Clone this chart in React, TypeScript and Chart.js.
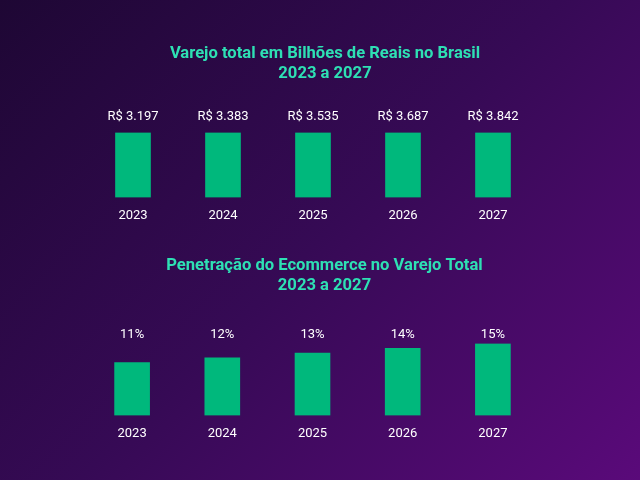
import React, { useEffect, useRef } from "react";
import { Chart, registerables } from "chart.js";

Chart.register(...registerables);

const years = ["2023", "2024", "2025", "2026", "2027"];
const retailValues = [3197, 3383, 3535, 3687, 3842];
// In the picture the retail bars are all drawn at the same height
const retailBarHeights = [1, 1, 1, 1, 1];
const ecommerceShare = [11, 12, 13, 14, 15];

const retailTitle = ["Varejo total em Bilhões de Reais no Brasil", "2023 a 2027"];
const ecommerceTitle = ["Penetração do Ecommerce no Varejo Total", "2023 a 2027"];

const FONT = "Roboto, 'Noto Sans', sans-serif";
const TITLE_COLOR = "#2ee0b4";
const BAR_COLOR = "#00b87c";
const TEXT_COLOR = "#ffffff";

const fmtBRL = (v: number) => "R$ " + v.toLocaleString("pt-BR");
const fmtPct = (v: number) => v + "%";

const valueLabels = {
  id: "valueLabels",
  afterDatasetsDraw(chart: any, _args: any, opts: any) {
    const { ctx, chartArea } = chart;
    const meta = chart.getDatasetMeta(0);
    const labels: string[] = opts.labels || [];
    ctx.save();
    ctx.font = `13px ${FONT}`;
    ctx.fillStyle = TEXT_COLOR;
    ctx.textAlign = "center";
    ctx.textBaseline = "middle";
    meta.data.forEach((bar: any, i: number) => {
      ctx.fillText(labels[i], bar.x, chartArea.top - (opts.offset || 12));
    });
    ctx.restore();
  },
};

function BarChart(props: {
  title: string[];
  data: number[];
  labels: string[];
  max: number;
  titlePadTop: number;
  titlePadBottom: number;
  padLeft: number;
  padBottom: number;
  labelOffset: number;
  top: number;
}) {
  const ref = useRef<HTMLCanvasElement | null>(null);
  useEffect(() => {
    if (!ref.current) return;
    const chart = new Chart(ref.current, {
      type: "bar",
      data: {
        labels: years,
        datasets: [
          {
            data: props.data,
            backgroundColor: BAR_COLOR,
            borderWidth: 0,
            barThickness: 35,
          },
        ],
      },
      options: {
        animation: false,
        responsive: false,
        events: [],
        layout: { padding: { left: props.padLeft, right: 78, top: 0, bottom: props.padBottom } },
        plugins: {
          legend: { display: false },
          tooltip: { enabled: false },
          title: {
            display: true,
            text: props.title,
            color: TITLE_COLOR,
            font: { family: FONT, size: 16.6, weight: "bold", lineHeight: 1.19 },
            padding: { top: props.titlePadTop, bottom: props.titlePadBottom },
          },
          valueLabels: { labels: props.labels, offset: props.labelOffset },
        } as any,
        scales: {
          x: {
            grid: { display: false, drawTicks: false },
            border: { display: false },
            ticks: {
              color: TEXT_COLOR,
              font: { family: FONT, size: 13 },
              padding: 11,
            },
          },
          y: {
            position: "right",
            min: 0,
            max: props.max,
            grid: { display: false, drawTicks: false },
            border: { display: false },
            ticks: { display: false },
            afterFit: (s: any) => {
              s.width = 24;
            },
          },
        },
      },
      plugins: [valueLabels],
    });
    return () => chart.destroy();
  }, []);
  return (
    <canvas
      ref={ref}
      width={640}
      height={240}
      style={{ position: "absolute", left: 0, top: props.top, width: 640, height: 240 }}
    />
  );
}

export default function App() {
  useEffect(() => {
    document.body.style.margin = "0";
  }, []);
  return (
    <div
      style={{
        position: "absolute",
        left: 0,
        top: 0,
        width: 640,
        height: 480,
        overflow: "hidden",
        background: "linear-gradient(135deg, #1e0734 0%, #360a55 50%, #5a0a7a 100%)",
      }}
    >
      <BarChart
        title={retailTitle}
        data={retailBarHeights}
        labels={retailValues.map(fmtBRL)}
        max={1}
        titlePadTop={44}
        titlePadBottom={49}
        padLeft={88}
        padBottom={5}
        labelOffset={16}
        top={0}
      />
      <BarChart
        title={ecommerceTitle}
        data={ecommerceShare}
        labels={ecommerceShare.map(fmtPct)}
        max={15}
        titlePadTop={16}
        titlePadBottom={48}
        padLeft={87}
        padBottom={27}
        labelOffset={9}
        top={240}
      />
    </div>
  );
}
